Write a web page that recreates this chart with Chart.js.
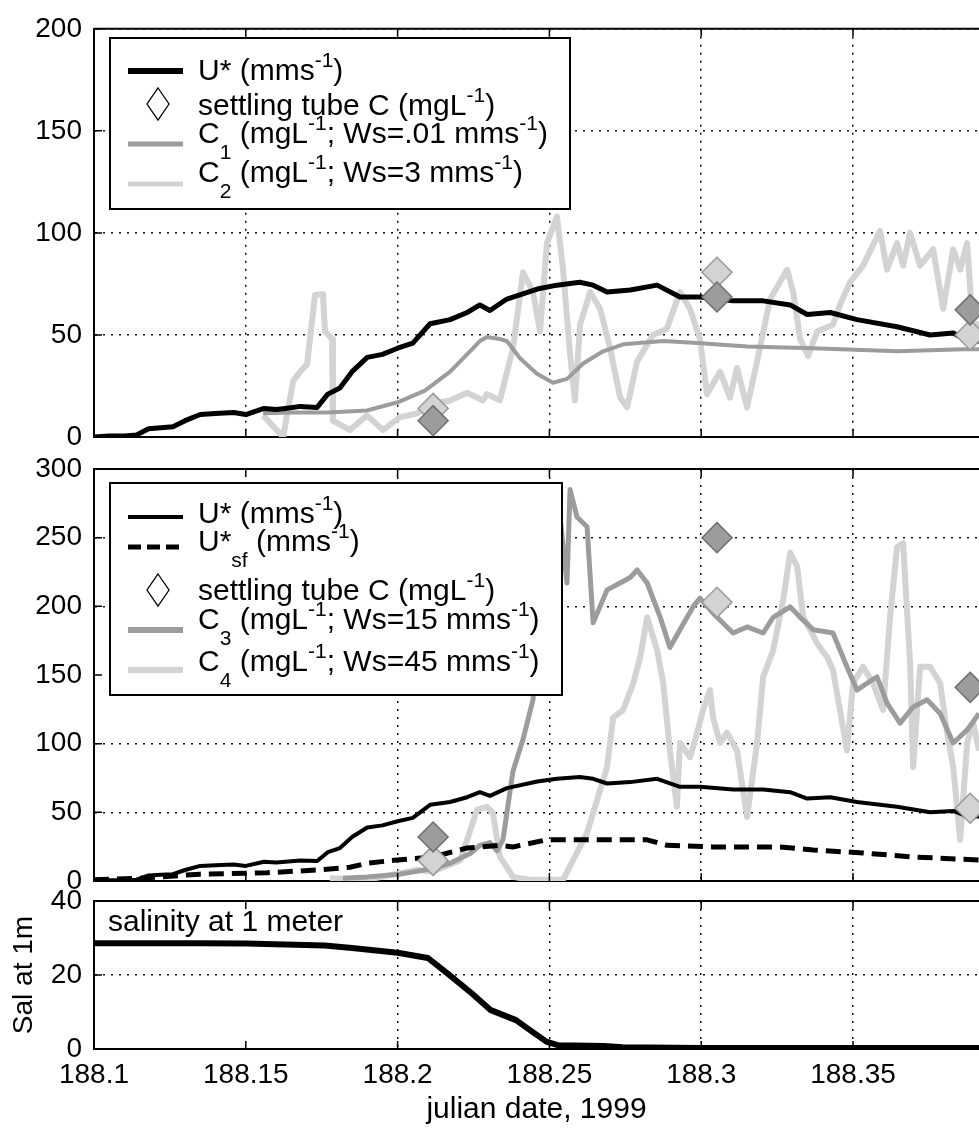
<!DOCTYPE html>
<html>
<head>
<meta charset="utf-8">
<script src="https://cdn.jsdelivr.net/npm/chart.js@4"></script>
<style>
  html, body { margin: 0; padding: 0; background: #fff; }
  #wrap { position: relative; width: 979px; height: 1132px; overflow: hidden; }
  #wrap canvas { position: absolute; left: 0; top: 0; }
</style>
</head>
<body>
<div id="wrap">
  <canvas id="topChart" width="979" height="1132"></canvas>
  <canvas id="midChart" width="979" height="1132"></canvas>
  <canvas id="salChart" width="979" height="1132"></canvas>
</div>
<script>
// x ticks (julian date)
const xTicks = [188.1, 188.15, 188.2, 188.25, 188.3, 188.35];

// U* (mms-1), same record in top and middle panels
const uDate = [188.100, 188.105, 188.110, 188.114, 188.118, 188.122, 188.126, 188.130, 188.135, 188.140,
  188.146, 188.150, 188.156, 188.160, 188.163, 188.168, 188.1735, 188.177, 188.181, 188.185,
  188.190, 188.195, 188.200, 188.205, 188.2107, 188.2173, 188.2229, 188.2271, 188.2304, 188.236,
  188.246, 188.2525, 188.260, 188.2644, 188.269, 188.2766, 188.2855, 188.293, 188.2996, 188.3105,
  188.3204, 188.3293, 188.3349, 188.3425, 188.3513, 188.3645, 188.3754, 188.383, 188.3876, 188.3915];
const uVal = [0, 0.5, 0.5, 1, 4, 4.5, 5, 8, 11, 11.5,
  12, 11, 14, 13.5, 14, 15, 14.5, 21, 24, 32,
  39, 40.5, 43.5, 46, 55.5, 57.5, 61, 64.7, 62, 67.6,
  72.5, 74.4, 75.8, 74.4, 71, 72, 74.4, 68.6, 68.6, 66.7,
  66.7, 64.7, 60, 61, 57.5, 54, 50, 51, 47, 47];

// U*sf (mms-1), middle panel dashed
const usfDate = [188.100, 188.1152, 188.1349, 188.157, 188.1735, 188.1843, 188.190, 188.1998, 188.2117, 188.2229,
  188.2337, 188.238, 188.2492, 188.2601, 188.2822, 188.2887, 188.3039, 188.326, 188.3369, 188.3533,
  188.3698, 188.3915];
const usfVal = [1, 2, 5, 6, 8, 10, 13, 15.3, 17.5, 24,
  26, 24.8, 30, 30, 30, 26, 24.8, 24.8, 22.6, 20.4,
  17.5, 15.3];

// C1 (Ws=.01 mms-1)
const c1Date = [188.1557, 188.165, 188.1771, 188.1899, 188.2000, 188.2090, 188.2173, 188.2249, 188.2271, 188.2294,
  188.2337, 188.2360, 188.2403, 188.2459, 188.2512, 188.2558, 188.2611, 188.2677, 188.2743, 188.2875,
  188.2987, 188.3152, 188.3369, 188.3645, 188.3863, 188.3915];
const c1Val = [11.6, 12, 12, 13, 17, 22.7, 32, 43.5, 47, 49,
  48, 47, 38.6, 31, 26.6, 28.5, 36, 42, 45.4, 47,
  46, 44.4, 43.5, 42, 43, 43];

// C2 (Ws=3 mms-1)
const c2Date = [188.1557, 188.1623, 188.1656, 188.1679, 188.1702, 188.1728, 188.1754, 188.1761, 188.1784, 188.1787,
  188.1843, 188.1899, 188.1952, 188.2008, 188.2064, 188.2117, 188.2173, 188.2229, 188.2281, 188.2294,
  188.2337, 188.2380, 188.2413, 188.2446, 188.2469, 188.2492, 188.2525, 188.2545, 188.2568, 188.2584,
  188.2601, 188.2634, 188.2667, 188.2700, 188.2733, 188.2756, 188.2789, 188.2841, 188.2887, 188.2930,
  188.2963, 188.2996, 188.3019, 188.3062, 188.3095, 188.3118, 188.3151, 188.3184, 188.3227, 188.3283,
  188.3303, 188.3326, 188.3352, 188.3382, 188.3434, 188.3457, 188.3490, 188.3533, 188.3589, 188.3612,
  188.3645, 188.3665, 188.3688, 188.3721, 188.3764, 188.3797, 188.3830, 188.3853, 188.3876, 188.3896,
  188.3915];
const c2Val = [10.6, 0, 27.5, 32, 35.7, 69.6, 70, 51.7, 48, 8,
  3.4, 10.6, 3.4, 9.7, 11.6, 16.4, 17.9, 21.7, 17.9, 21,
  18, 43.5, 80.7, 71, 51.7, 95, 108, 82, 40.6, 17.9,
  55, 71, 62.8, 43.5, 19.3, 14.5, 37, 50, 53, 71,
  62.8, 48, 21, 32, 19.3, 33.8, 14.5, 37, 67.6, 82,
  71, 48, 39.6, 51.7, 55, 64.7, 75.8, 84, 101, 82,
  95, 84, 100, 84, 92, 62.8, 92, 82, 95, 50,
  56.5];

// C3 (Ws=15 mms-1)
const c3Date = [188.182, 188.190, 188.2008, 188.2117, 188.2173, 188.2239, 188.2271, 188.2304, 188.2327, 188.2347,
  188.2380, 188.2413, 188.2446, 188.2459, 188.2502, 188.2535, 188.2558, 188.2568, 188.2591, 188.2624,
  188.2644, 188.2690, 188.2733, 188.2766, 188.2789, 188.2822, 188.2865, 188.2897, 188.2930, 188.2973,
  188.2996, 188.3039, 188.3105, 188.3151, 188.3204, 188.3237, 188.3293, 188.3326, 188.3369, 188.3434,
  188.3480, 188.3513, 188.3546, 188.3579, 188.3612, 188.3655, 188.3698, 188.3744, 188.3787, 188.3830,
  188.3876, 188.3915];
const c3Val = [2, 3, 5, 9, 13, 20, 26, 28, 22, 30,
  80, 103, 132, 168, 212, 265, 217, 285, 265, 258,
  188, 212, 217, 221, 226.5, 217, 192, 170, 183, 199.6,
  206, 195, 180.6, 185, 180.6, 192, 199.6, 192, 183, 180.6,
  156, 139, 144, 148.6, 129.6, 115, 126.7, 132, 122, 100.5,
  110, 122];

// C4 (Ws=45 mms-1)
const c4Date = [188.1777, 188.190, 188.2064, 188.2117, 188.2150, 188.2206, 188.2262, 188.2294, 188.2314, 188.2337,
  188.2360, 188.2380, 188.2436, 188.2545, 188.2578, 188.2624, 188.2657, 188.2690, 188.2710, 188.2743,
  188.2776, 188.2799, 188.2822, 188.2855, 188.2875, 188.2897, 188.2920, 188.2930, 188.2963, 188.2987,
  188.3006, 188.3029, 188.3039, 188.3062, 188.3085, 188.3118, 188.3151, 188.3184, 188.3204, 188.3237,
  188.3270, 188.3293, 188.3316, 188.3336, 188.3359, 188.3382, 188.3415, 188.3434, 188.3457, 188.3480,
  188.3500, 188.3533, 188.3566, 188.3599, 188.3622, 188.3645, 188.3665, 188.3688, 188.3698, 188.3721,
  188.3754, 188.3787, 188.3810, 188.3830, 188.3853, 188.3876, 188.3896, 188.3915];
const c4Val = [2, 1, 8, 7, 10, 15, 52, 54, 49.5, 17.5,
  10, 3, 1, 1, 15, 35, 59, 83, 119, 124.5,
  144, 163, 192, 168, 144, 95, 54, 100.5, 90, 108,
  124.5, 139, 119, 100.5, 108, 95, 46.6, 100.5, 148.6, 168,
  204.6, 239, 229, 192, 183, 173, 163, 153.7, 124.5, 95,
  144, 156, 144, 124.5, 192, 243, 246, 159, 83, 156,
  156, 144, 108, 83, 30, 100.5, 115, 95];

// settling tube samples
const tubeDate = [188.2117, 188.3052, 188.3886];
const tubeC1 = [8, 68.6, 62.3];
const tubeC2 = [14, 80.7, 50];
const tubeC3 = [32, 250, 141];
const tubeC4 = [15, 203, 53];

// salinity at 1 m
const salDate = [188.100, 188.135, 188.150, 188.176, 188.185, 188.200, 188.210, 188.2163, 188.2245, 188.2307,
  188.239, 188.245, 188.249, 188.253, 188.268, 188.274, 188.300, 188.3915];
const salVal = [28.6, 28.6, 28.5, 28, 27.3, 26, 24.6, 20.5, 15, 10.5,
  7.8, 4.3, 2, 1, 0.8, 0.5, 0.3, 0.3];

const FONT = '"Liberation Sans", Arial, Helvetica, sans-serif';
const MID = '#9c9c9c';
const LIGHT = '#d3d3d3';
Chart.defaults.font.family = FONT;
Chart.defaults.color = '#000';

function pts(xs, ys) {
  return xs.map((x, i) => ({ x: x, y: ys[i] }));
}

function lineSet(xs, ys, color, width, order, dash) {
  return {
    data: pts(xs, ys), showLine: true, borderColor: color, borderWidth: width,
    borderDash: dash || [], borderJoinStyle: 'round', pointRadius: 0, tension: 0, order: order
  };
}

function tubeSet(ys, fill, edge, order) {
  return {
    data: pts(tubeDate, ys), showLine: false, pointStyle: 'rectRot', pointRadius: 15,
    backgroundColor: fill, borderColor: edge, borderWidth: 1.5, order: order
  };
}

// text with super/subscripts, runs = [[text, 'n'|'sup'|'sub'], ...]
function drawRich(ctx, x, y, runs, size) {
  runs.forEach(([t, k]) => {
    const s = k === 'n' ? size : Math.round(size * 0.7);
    const dy = k === 'sup' ? -size * 0.36 : k === 'sub' ? size * 0.6 : 0;
    ctx.font = s + 'px ' + FONT;
    ctx.fillText(t, x, y + dy);
    x += ctx.measureText(t).width;
  });
}

function makeDeco(panel) {
  return {
    id: 'deco',
    afterDraw(chart) {
      const { ctx, chartArea: a } = chart;
      const xs = chart.scales.x, ys = chart.scales.y;
      ctx.save();
      // top edge and inward tick marks
      ctx.strokeStyle = '#000';
      ctx.lineWidth = 2;
      ctx.beginPath();
      ctx.moveTo(a.left, a.top);
      ctx.lineTo(a.right, a.top);
      ctx.stroke();
      ctx.lineWidth = 1.5;
      ctx.beginPath();
      xs.ticks.forEach(t => {
        const p = xs.getPixelForValue(t.value);
        ctx.moveTo(p, a.bottom); ctx.lineTo(p, a.bottom - 8);
        ctx.moveTo(p, a.top); ctx.lineTo(p, a.top + 8);
      });
      ys.ticks.forEach(t => {
        const p = ys.getPixelForValue(t.value);
        ctx.moveTo(a.left, p); ctx.lineTo(a.left + 8, p);
      });
      ctx.stroke();

      ctx.textBaseline = 'middle';
      ctx.textAlign = 'left';
      if (panel.legend) {
        const [x0, y0, x1, y1] = panel.legend.box;
        ctx.fillStyle = '#fff';
        ctx.fillRect(x0, y0, x1 - x0, y1 - y0);
        ctx.strokeStyle = '#000';
        ctx.lineWidth = 2;
        ctx.strokeRect(x0, y0, x1 - x0, y1 - y0);
        panel.legend.items.forEach(it => {
          if (it.kind === 'diamond') {
            ctx.beginPath();
            ctx.moveTo(158, it.y - 16);
            ctx.lineTo(169, it.y);
            ctx.lineTo(158, it.y + 16);
            ctx.lineTo(147, it.y);
            ctx.closePath();
            ctx.fillStyle = '#fff';
            ctx.fill();
            ctx.lineWidth = 1.3;
            ctx.strokeStyle = '#000';
            ctx.stroke();
          } else {
            ctx.beginPath();
            ctx.setLineDash(it.dash || []);
            ctx.strokeStyle = it.color;
            ctx.lineWidth = it.width;
            ctx.moveTo(128, it.y);
            ctx.lineTo(183, it.y);
            ctx.stroke();
            ctx.setLineDash([]);
          }
          ctx.fillStyle = '#000';
          drawRich(ctx, 198, it.ty, it.runs, 30);
        });
      }
      if (panel.label) {
        ctx.fillStyle = '#000';
        ctx.font = '30px ' + FONT;
        ctx.fillText(panel.label.text, panel.label.x, panel.label.y);
      }
      ctx.restore();
    }
  };
}

function panelOptions(o) {
  const near = (a, b) => Math.abs(a - b) < 1e-6;
  return {
    responsive: false,
    animation: false,
    events: [],
    layout: { autoPadding: false, padding: { top: o.top, bottom: o.bottom, left: 0, right: 0 } },
    plugins: { legend: { display: false }, tooltip: { enabled: false } },
    scales: {
      x: {
        type: 'linear', min: 188.1, max: 188.3915,
        afterBuildTicks: s => { s.ticks = xTicks.map(v => ({ value: v })); },
        afterFit: s => { s.height = o.xHeight; },
        grid: {
          color: c => (o.skipX && c.tick && near(c.tick.value, o.skipX)) ? 'rgba(0,0,0,0)' : '#111',
          lineWidth: 1.5, drawTicks: false
        },
        border: { display: true, color: '#000', width: 2, dash: [2, 6] },
        ticks: {
          display: !!o.xTitle, padding: 9, autoSkip: false, maxRotation: 0,
          font: { size: 28 }, color: '#000',
          callback: v => String(+(+v).toFixed(2))
        },
        title: {
          display: !!o.xTitle, text: o.xTitle || '', font: { size: 30 }, color: '#000',
          padding: { top: 0, bottom: 4 }
        }
      },
      y: {
        min: 0, max: o.yMax,
        afterFit: s => { s.width = 94; },
        grid: {
          color: c => (o.skipY && c.tick && near(c.tick.value, o.skipY)) ? 'rgba(0,0,0,0)' : '#111',
          lineWidth: 1.5, drawTicks: false
        },
        border: { display: true, color: '#000', width: 2, dash: [2, 6] },
        ticks: { stepSize: o.yStep, padding: 12, font: { size: 28 }, color: '#000' },
        title: {
          display: !!o.yTitle, text: o.yTitle || '', font: { size: 28 }, color: '#000',
          padding: { top: 7, bottom: 0 }
        }
      }
    }
  };
}

// top panel: U*, C1, C2
new Chart(document.getElementById('topChart'), {
  type: 'scatter',
  data: {
    datasets: [
      tubeSet(tubeC1, MID, '#6f6f6f', 0),
      tubeSet(tubeC2, LIGHT, '#999', 1),
      lineSet(uDate, uVal, '#000', 5, 2),
      lineSet(c1Date, c1Val, MID, 4, 3),
      lineSet(c2Date, c2Val, LIGHT, 6, 4)
    ]
  },
  options: panelOptions({ top: 23, bottom: 695, xHeight: 0, yMax: 200, yStep: 50 }),
  plugins: [makeDeco({
    legend: {
      box: [110, 38, 570, 209],
      items: [
        { kind: 'line', color: '#000', width: 6, y: 71, ty: 72, runs: [['U* (mms', 'n'], ['-1', 'sup'], [')', 'n']] },
        { kind: 'diamond', y: 104, ty: 107, runs: [['settling tube C (mgL', 'n'], ['-1', 'sup'], [')', 'n']] },
        { kind: 'line', color: MID, width: 5, y: 144, ty: 135, runs: [['C', 'n'], ['1', 'sub'], [' (mgL', 'n'], ['-1', 'sup'], ['; Ws=.01 mms', 'n'], ['-1', 'sup'], [')', 'n']] },
        { kind: 'line', color: LIGHT, width: 5, y: 184, ty: 174, runs: [['C', 'n'], ['2', 'sub'], [' (mgL', 'n'], ['-1', 'sup'], ['; Ws=3 mms', 'n'], ['-1', 'sup'], [')', 'n']] }
      ]
    }
  })]
});

// middle panel: U*, U*sf, C3, C4
new Chart(document.getElementById('midChart'), {
  type: 'scatter',
  data: {
    datasets: [
      tubeSet(tubeC3, MID, '#6f6f6f', 0),
      tubeSet(tubeC4, LIGHT, '#999', 1),
      lineSet(uDate, uVal, '#000', 4, 2),
      lineSet(usfDate, usfVal, '#000', 5, 3, [15, 8]),
      lineSet(c3Date, c3Val, MID, 5, 4),
      lineSet(c4Date, c4Val, LIGHT, 6, 5)
    ]
  },
  options: panelOptions({ top: 469, bottom: 251, xHeight: 0, yMax: 300, yStep: 50, skipX: 188.15, skipY: 150 }),
  plugins: [makeDeco({
    legend: {
      box: [110, 483, 562, 695],
      items: [
        { kind: 'line', color: '#000', width: 4, y: 517, ty: 515, runs: [['U* (mms', 'n'], ['-1', 'sup'], [')', 'n']] },
        { kind: 'line', color: '#000', width: 5, dash: [13, 6], y: 547, ty: 543, runs: [['U*', 'n'], ['sf', 'sub'], [' (mms', 'n'], ['-1', 'sup'], [')', 'n']] },
        { kind: 'diamond', y: 590, ty: 592, runs: [['settling tube C (mgL', 'n'], ['-1', 'sup'], [')', 'n']] },
        { kind: 'line', color: MID, width: 6, y: 630, ty: 621, runs: [['C', 'n'], ['3', 'sub'], [' (mgL', 'n'], ['-1', 'sup'], ['; Ws=15 mms', 'n'], ['-1', 'sup'], [')', 'n']] },
        { kind: 'line', color: LIGHT, width: 6, y: 670, ty: 663, runs: [['C', 'n'], ['4', 'sub'], [' (mgL', 'n'], ['-1', 'sup'], ['; Ws=45 mms', 'n'], ['-1', 'sup'], [')', 'n']] }
      ]
    }
  })]
});

// bottom panel: salinity
new Chart(document.getElementById('salChart'), {
  type: 'scatter',
  data: {
    datasets: [lineSet(salDate, salVal, '#000', 6, 0)]
  },
  options: panelOptions({
    top: 901, bottom: 0, xHeight: 83, yMax: 40, yStep: 20, skipX: 188.15,
    xTitle: 'julian date, 1999', yTitle: 'Sal at 1m'
  }),
  plugins: [makeDeco({ label: { text: 'salinity at 1 meter', x: 108, y: 923 } })]
});
</script>
</body>
</html>
